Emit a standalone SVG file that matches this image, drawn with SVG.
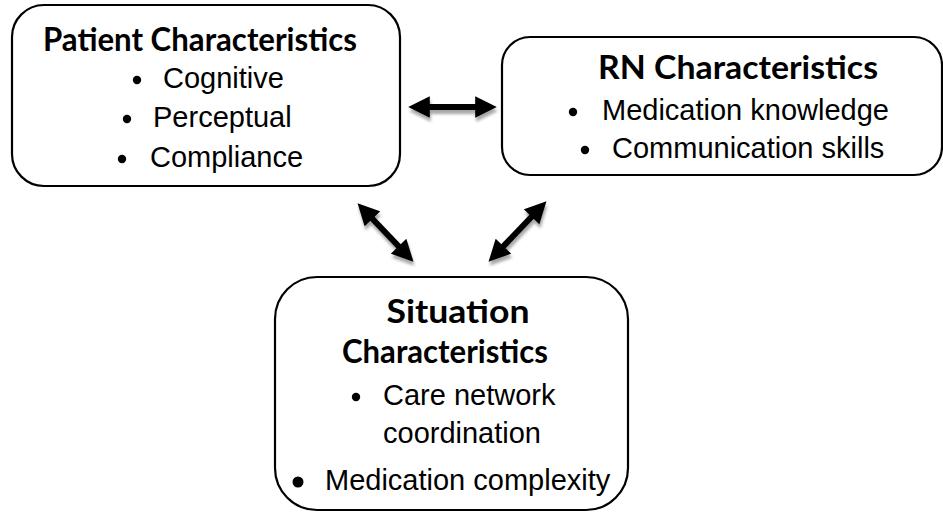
<svg xmlns="http://www.w3.org/2000/svg" width="943" height="512" viewBox="0 0 943 512">
<defs>
<style>
.box{fill:#fff;stroke:#000;stroke-width:2.2}
.title{font-family:Lato,"Open Sans",sans-serif;font-weight:bold;font-size:32px;fill:#000;text-anchor:middle}
.item{font-family:"Liberation Sans",Arial,sans-serif;font-size:29px;fill:#000}
.conn{stroke:#000;stroke-width:6;fill:none;marker-start:url(#ah);marker-end:url(#ah)}
</style>
<marker id="ah" viewBox="0 0 10 10" refX="5" refY="5" markerWidth="3.8" markerHeight="3.6" orient="auto-start-reverse" markerUnits="strokeWidth">
<path d="M0,0 L10,5 L0,10 Z" fill="#000"/>
</marker>
<filter id="sh" x="-20%" y="-20%" width="140%" height="160%">
<feDropShadow dx="1" dy="4" stdDeviation="1.5" flood-color="#000" flood-opacity="0.35"/>
</filter>
</defs>
<g id="connectors" filter="url(#sh)">
<path class="conn" d="M419,107 L486,107"/>
<path class="conn" d="M365,211 L406,254"/>
<path class="conn" d="M539,209 L496,254"/>
</g>
<g id="patient">
<rect class="box" x="12" y="5" width="388" height="181" rx="32"/>
<text class="title" x="200" y="51" textLength="314" lengthAdjust="spacingAndGlyphs">Patient Characteristics</text>
<circle cx="137" cy="80" r="4.2"/>
<text class="item" x="163" y="88">Cognitive</text>
<circle cx="127" cy="119" r="4.2"/>
<text class="item" x="153" y="127">Perceptual</text>
<circle cx="122" cy="159" r="4.2"/>
<text class="item" x="150" y="167">Compliance</text>
</g>
<g id="rn">
<rect class="box" x="502" y="37" width="440" height="138" rx="28"/>
<text class="title" x="738" y="79" textLength="280" lengthAdjust="spacingAndGlyphs">RN Characteristics</text>
<circle cx="573" cy="112" r="4.2"/>
<text class="item" x="602" y="120">Medication knowledge</text>
<circle cx="585" cy="150" r="4.2"/>
<text class="item" x="612" y="158">Communication skills</text>
</g>
<g id="situation">
<rect class="box" x="275" y="277" width="353" height="233" rx="42"/>
<text class="title" x="458" y="323" font-size="34" textLength="143" lengthAdjust="spacingAndGlyphs">Situation</text>
<text class="title" x="445" y="363" textLength="206" lengthAdjust="spacingAndGlyphs">Characteristics</text>
<circle cx="356" cy="397" r="4.2"/>
<text class="item" x="383" y="405">Care network</text>
<text class="item" x="383" y="443">coordination</text>
<circle cx="298" cy="482" r="5.5"/>
<text class="item" x="325" y="490">Medication complexity</text>
</g>
</svg>
